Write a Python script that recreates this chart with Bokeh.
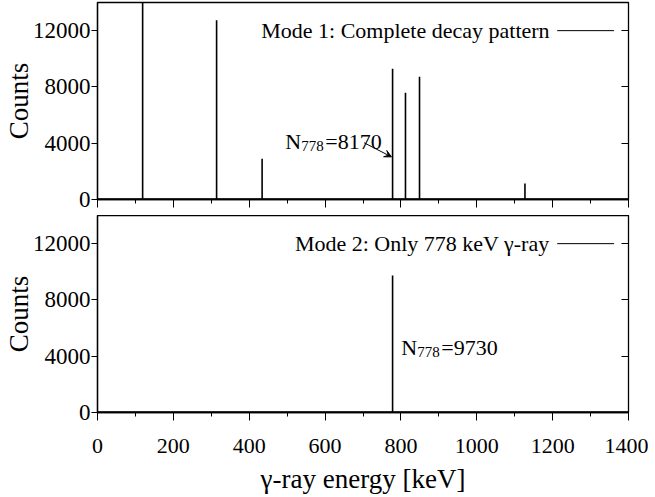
from bokeh.plotting import figure
from bokeh.models import FixedTicker, LinearAxis, Range1d, Arrow, VeeHead
from bokeh.layouts import column
from bokeh.embed import file_html
from bokeh.resources import INLINE
from bokeh.core.properties import value

# ---------------- data ----------------
# Mode 1: complete decay pattern (peak energies in keV, peak heights in counts)
mode1_energy = [119, 314, 434, 778, 812, 849, 1127]
mode1_counts = [16000, 12740, 2890, 9290, 7580, 8720, 1140]
# Mode 2: only the 778 keV gamma-ray
mode2_energy = [778]
mode2_counts = [9730]
# small flat background level under the spectra
background_level = 40

x_ticks = [0, 200, 400, 600, 800, 1000, 1200, 1400]
x_minor_ticks = [100, 300, 500, 700, 900, 1100, 1300]
y_ticks = [0, 4000, 8000, 12000]
x_range = (0, 1400)
y_range = (0, 14000)

mode1_label = "Mode 1: Complete decay pattern"
mode2_label = "Mode 2: Only 778 keV \u03b3-ray"
n778_mode1 = 8170
n778_mode2 = 9730
x_label = "\u03b3-ray energy [keV]"
y_label = "Counts"

# ---------------- layout / style ----------------
FONT = "Liberation Serif"
XTICK_FS = "22px"
YTICK_FS = "23px"
LABEL_FS = "27px"
TEXT_FS = "22px"
SUB_FS = "15px"

# legend placement (data units) and annotation anchors
LEG_TEXT_X = 1192
LEG_Y = 12000
LEG_LINE_X0, LEG_LINE_X1 = 1212, 1362
ANN1_X, ANN1_Y = 495, 4150
ARROW1 = (703, 4030, 775, 3030)
ANN2_X, ANN2_Y = 801, 4620


def make_fig(bottom, energies, counts, label):
    p = figure(
        frame_width=531, frame_height=197,
        x_range=Range1d(*x_range), y_range=Range1d(*y_range),
        output_backend="svg", toolbar_location=None,
        min_border_left=88, min_border_right=20,
        min_border_top=0 if bottom else 2,
        min_border_bottom=0 if bottom else 16,
        background_fill_color="white", border_fill_color="white",
        outline_line_color="black", outline_line_width=1.3,
    )
    p.xgrid.visible = False
    p.ygrid.visible = False

    xa = p.xaxis[0]
    xa.ticker = FixedTicker(ticks=x_ticks, minor_ticks=x_minor_ticks)
    xa.major_tick_in = 0
    xa.major_tick_out = 8
    xa.minor_tick_in = 0
    xa.minor_tick_out = 4
    xa.axis_line_color = "black"
    xa.axis_line_width = 1.3
    xa.major_tick_line_color = "black"
    xa.minor_tick_line_color = "black"
    xa.major_label_text_font = FONT
    if bottom:
        xa.major_label_text_color = "black"
        xa.major_label_text_font_size = XTICK_FS
        xa.major_label_standoff = 18
        xa.axis_label = x_label
        xa.axis_label_text_font = FONT
        xa.axis_label_text_font_size = LABEL_FS
        xa.axis_label_text_font_style = "normal"
        xa.axis_label_text_color = "black"
        xa.axis_label_standoff = 8
    else:
        xa.major_label_text_color = None
        xa.major_label_text_font_size = "1px"
        xa.major_label_standoff = 0

    ya = p.yaxis[0]
    ya.ticker = FixedTicker(ticks=y_ticks)
    ya.major_tick_in = 0
    ya.major_tick_out = 6
    ya.minor_tick_line_color = None
    ya.axis_line_color = "black"
    ya.axis_line_width = 1.3
    ya.major_tick_line_color = "black"
    ya.major_label_text_font = FONT
    ya.major_label_text_font_size = YTICK_FS
    ya.major_label_text_color = "black"
    ya.major_label_standoff = 1
    ya.axis_label = y_label
    ya.axis_label_text_font = FONT
    ya.axis_label_text_font_size = LABEL_FS
    ya.axis_label_text_font_style = "normal"
    ya.axis_label_text_color = "black"
    ya.axis_label_standoff = -4

    ra = LinearAxis(ticker=FixedTicker(ticks=y_ticks))
    ra.major_label_text_color = None
    ra.major_label_text_font_size = "1px"
    ra.major_label_standoff = 0
    ra.major_tick_in = 7
    ra.major_tick_out = 0
    ra.minor_tick_line_color = None
    ra.axis_line_color = "black"
    ra.major_tick_line_color = "black"
    p.add_layout(ra, "right")

    # spectrum: flat background + peaks
    p.line(x=list(x_range), y=[background_level, background_level],
           line_color="black", line_width=1.5)
    p.segment(x0=energies, y0=[background_level] * len(energies),
              x1=energies, y1=counts, line_color="black", line_width=1.6)

    # gnuplot-style key: text then line sample
    p.text(x=[LEG_TEXT_X], y=[LEG_Y], text=[label], text_align="right",
           text_baseline="middle", text_font=value(FONT),
           text_font_size=TEXT_FS, text_color="black")
    p.segment(x0=[LEG_LINE_X0], y0=[LEG_Y], x1=[LEG_LINE_X1], y1=[LEG_Y],
              line_color="black", line_width=1)
    return p


def n_label(p, x, y, n):
    p.text(x=[x], y=[y], text=["N"], text_align="left",
           text_baseline="alphabetic", text_font=value(FONT),
           text_font_size=TEXT_FS, text_color="black")
    p.text(x=[x], y=[y], text=["778"], text_align="left", x_offset=16,
           y_offset=5, text_baseline="alphabetic", text_font=value(FONT),
           text_font_size=SUB_FS, text_color="black")
    p.text(x=[x], y=[y], text=["=%d" % n], text_align="left", x_offset=40,
           text_baseline="alphabetic", text_font=value(FONT),
           text_font_size=TEXT_FS, text_color="black")


p1 = make_fig(False, mode1_energy, mode1_counts, mode1_label)
n_label(p1, ANN1_X, ANN1_Y, n778_mode1)
p1.add_layout(Arrow(end=VeeHead(size=7, line_color="black", fill_color="black",
                                line_width=1),
                    x_start=ARROW1[0], y_start=ARROW1[1],
                    x_end=ARROW1[2], y_end=ARROW1[3],
                    line_color="black", line_width=1))

p2 = make_fig(True, mode2_energy, mode2_counts, mode2_label)
n_label(p2, ANN2_X, ANN2_Y, n778_mode2)

layout = column(p1, p2, spacing=0)

open("out.html", "w").write(file_html(layout, INLINE))
